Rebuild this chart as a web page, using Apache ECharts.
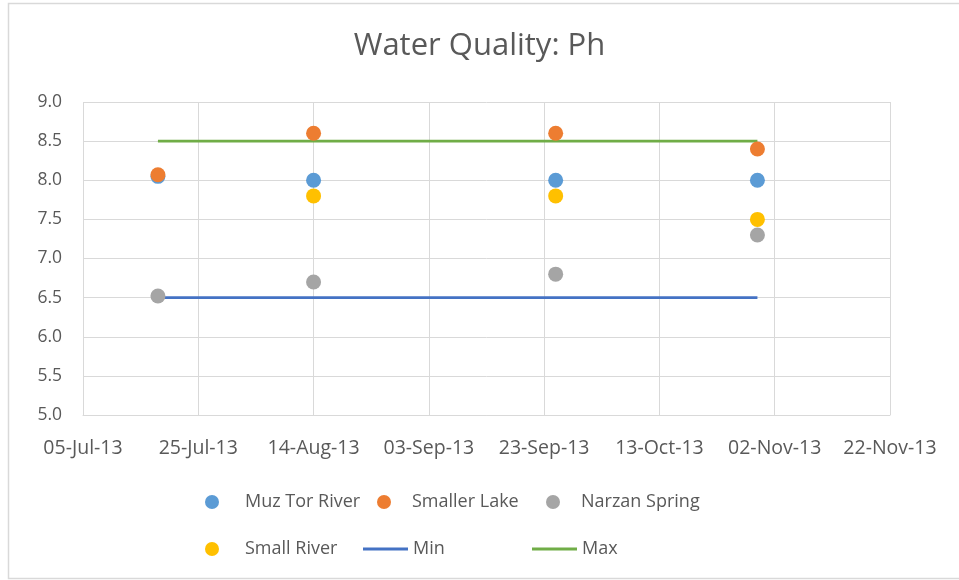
<!DOCTYPE html>
<html>
<head>
<meta charset="utf-8">
<title>Water Quality: Ph</title>
<script src="https://cdn.jsdelivr.net/npm/echarts@6/dist/echarts.min.js"></script>
<style>
  html, body { margin: 0; padding: 0; background: #fff; }
  #chart { width: 959px; height: 580px; }
</style>
</head>
<body>
<div id="chart"></div>
<script>
// sample dates and readings
const sampleDates = ['2013-07-18', '2013-08-14', '2013-09-25', '2013-10-30']
const muzTorRiver = [8.05, 8.0, 8.0, 8.0]
const smallerLake = [8.07, 8.6, 8.6, 8.4]
const narzanSpring = [6.52, 6.7, 6.8, 7.3]
const smallRiver = [null, 7.8, 7.8, 7.5]
const limitDates = ['2013-07-18', '2013-10-30']
const minLimit = [6.5, 6.5]
const maxLimit = [8.5, 8.5]

// axis: days counted from 05-Jul-13, one tick every 20 days
const axisStart = '2013-07-05'
const axisDays = 140
const tickDays = 20
const yTicks = [5.0, 5.5, 6.0, 6.5, 7.0, 7.5, 8.0, 8.5, 9.0]

const MONTHS = ['Jan', 'Feb', 'Mar', 'Apr', 'May', 'Jun', 'Jul', 'Aug', 'Sep', 'Oct', 'Nov', 'Dec']
const DAY = 86400000
const startMs = Date.parse(axisStart + 'T00:00:00Z')

function dayOffset(s) {
  return Math.round((Date.parse(s + 'T00:00:00Z') - startMs) / DAY)
}
function dayLabel(v) {
  const d = new Date(startMs + v * DAY)
  const dd = String(d.getUTCDate()).padStart(2, '0')
  const yy = String(d.getUTCFullYear()).slice(2)
  return dd + '-' + MONTHS[d.getUTCMonth()] + '-' + yy
}
function pairs(dates, vals) {
  return dates.map((d, i) => [dayOffset(d), vals[i]]).filter(p => p[1] !== null)
}

const font = "'Open Sans', 'Noto Sans', sans-serif"
const textColor = '#595959'
const gridColor = '#d9d9d9'

function dotSeries(name, color, vals) {
  return {
    name: name,
    type: 'scatter',
    symbol: 'circle',
    symbolSize: 15,
    itemStyle: { color: color, opacity: 1 },
    data: pairs(sampleDates, vals)
  }
}
function lineSeries(name, color, vals) {
  return {
    name: name,
    type: 'line',
    symbol: 'none',
    lineStyle: { color: color, width: 2.75 },
    itemStyle: { color: color },
    data: pairs(limitDates, vals),
    z: 1
  }
}

function legendItem(name, left, top, isLine, gap) {
  return {
    data: [name],
    left: left,
    top: top,
    icon: isLine ? 'rect' : 'circle',
    itemWidth: isLine ? 45 : 14,
    itemHeight: isLine ? 3 : 14,
    selectedMode: false,
    textStyle: {
      fontFamily: font,
      fontSize: 18,
      color: textColor,
      padding: [0, 0, 0, gap]
    }
  }
}

const chart = echarts.init(document.getElementById('chart'))
chart.setOption({
  backgroundColor: '#fff',
  animation: false,
  title: {
    text: 'Water Quality: Ph',
    left: 'center',
    top: 26,
    padding: [5, 5, 5, 21],
    textStyle: { fontFamily: font, fontSize: 31, fontWeight: 'normal', color: textColor }
  },
  graphic: [{
    type: 'rect',
    shape: { x: 8.5, y: 3.5, width: 960, height: 575 },
    style: { fill: 'none', stroke: gridColor, lineWidth: 1.5 },
    silent: true
  }],
  legend: [
    legendItem('Muz Tor River', 200, 488, false, 21),
    legendItem('Smaller Lake', 372, 488, false, 16),
    legendItem('Narzan Spring', 541, 488, false, 16),
    legendItem('Small River', 200, 535, false, 21),
    legendItem('Min', 358, 535, true, 0),
    legendItem('Max', 527, 535, true, 0)
  ],
  grid: { left: 83, right: 69, top: 102, bottom: 165 },
  xAxis: {
    type: 'value',
    min: 0,
    max: axisDays,
    interval: tickDays,
    axisLine: { show: true, lineStyle: { color: gridColor, width: 1 } },
    axisTick: { show: false },
    splitLine: { show: true, lineStyle: { color: gridColor, width: 1 } },
    axisLabel: {
      fontFamily: font,
      fontSize: 19.5,
      color: textColor,
      margin: 23,
      formatter: v => dayLabel(v)
    }
  },
  yAxis: {
    type: 'value',
    min: yTicks[0],
    max: yTicks[yTicks.length - 1],
    interval: 0.5,
    axisLine: { show: false },
    axisTick: { show: false },
    splitLine: { show: true, lineStyle: { color: gridColor, width: 1 } },
    axisLabel: {
      fontFamily: font,
      fontSize: 17.5,
      color: textColor,
      margin: 21,
      formatter: v => v.toFixed(1)
    }
  },
  series: [
    lineSeries('Min', '#4472C4', minLimit),
    lineSeries('Max', '#70AD47', maxLimit),
    dotSeries('Muz Tor River', '#5B9BD5', muzTorRiver),
    dotSeries('Smaller Lake', '#ED7D31', smallerLake),
    dotSeries('Narzan Spring', '#A5A5A5', narzanSpring),
    dotSeries('Small River', '#FFC000', smallRiver)
  ]
})
</script>
</body>
</html>
